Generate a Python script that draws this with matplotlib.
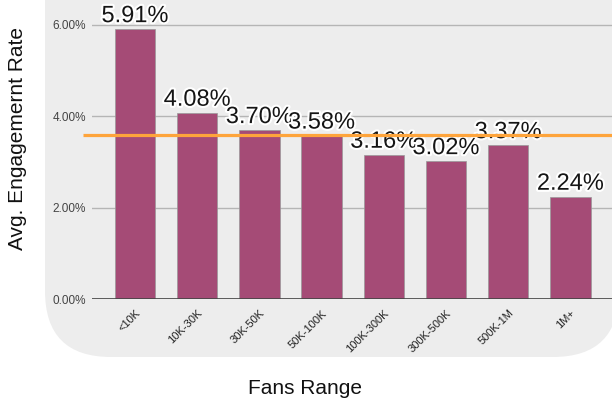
import matplotlib.pyplot as plt
import matplotlib.patheffects as pe
from matplotlib.patches import FancyBboxPatch

plt.rcParams['font.family'] = ['Liberation Sans', 'DejaVu Sans']

fan_ranges = ['<10K', '10K-30K', '30K-50K', '50K-100K', '100K-300K',
              '300K-500K', '500K-1M', '1M+']
engagement = [5.91, 4.08, 3.70, 3.58, 3.16, 3.02, 3.37, 2.24]
avg_line = 3.6
y_ticks = [0, 2, 4, 6]

W, H = 612, 401
fig = plt.figure(figsize=(W / 100, H / 100), dpi=100)
fig.patch.set_facecolor('white')

# rounded grey panel behind the chart
panel = FancyBboxPatch((0.45, 0.44), 5.74, 5.0,
                       boxstyle='round,pad=0,rounding_size=0.66',
                       transform=fig.dpi_scale_trans,
                       fc='#ededed', ec='none', zorder=-1)
fig.add_artist(panel)

# axes: left edge at x=92 px, bottom (0%) at y=299 px
ax = fig.add_axes([92 / W, (H - 299) / H, 520 / W, 299 / H])
ax.set_facecolor('none')

xs = list(range(len(fan_ranges)))
ax.bar(xs, engagement, width=0.65, color='#a54b76',
       edgecolor='#999999', linewidth=0.5, zorder=3)

ax.set_xlim(-0.691, 7.669)
ax.set_ylim(0, 299 / 45.67)

for s in ax.spines.values():
    s.set_visible(False)
ax.axhline(0, color='#444444', lw=1.2, zorder=4)
ax.set_yticks(y_ticks)
ax.set_yticklabels(['%.2f%%' % v for v in y_ticks])
ax.yaxis.grid(True, color='#b5b5b5', lw=1.0, zorder=0)
ax.tick_params(axis='y', length=0, pad=4.5, labelsize=8.5, labelcolor='#444444')

ax.set_xticks(xs)
ax.set_xticklabels(fan_ranges, rotation=45, ha='right', va='top',
                   rotation_mode='anchor')
ax.tick_params(axis='x', length=0, pad=6.5, labelsize=8, labelcolor='#222222')

# value labels above bars
for x, v in zip(xs, engagement):
    ax.annotate('%.2f%%' % v, (x, v), xytext=(0, 5), textcoords='offset points',
                ha='center', va='baseline', fontsize=17, color='#151515', zorder=5,
                path_effects=[pe.withStroke(linewidth=3, foreground='white')])

# average line, drawn over the labels
ax.plot([-0.836, 7.669], [avg_line, avg_line], color='#fea43b', lw=2.3,
        solid_capstyle='butt', clip_on=False, zorder=6)

fig.text(18 / W, (H - 138) / H, 'Avg. Engagemernt Rate', rotation=90,
         ha='center', va='center', fontsize=15, color='#111111')
fig.text(305 / W, (H - 389) / H, 'Fans Range', ha='center', va='center',
         fontsize=15, color='#111111')

fig.savefig('out.png', dpi=100)
